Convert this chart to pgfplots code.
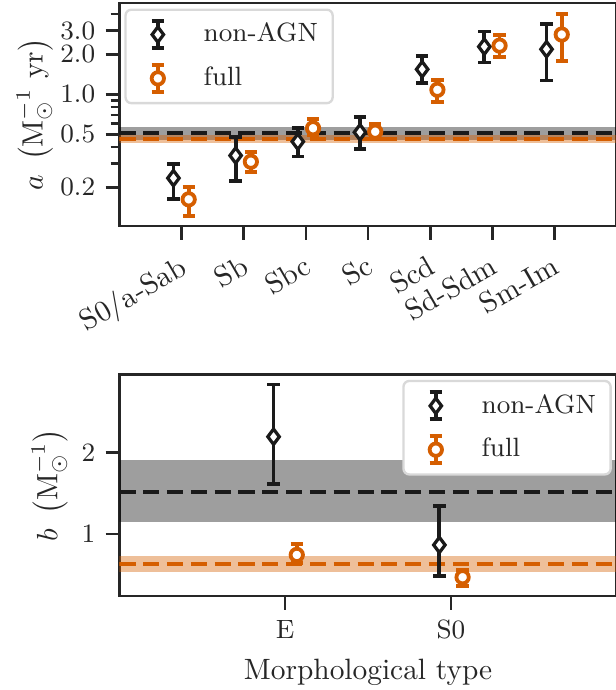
\documentclass[border=0pt]{standalone}
\usepackage{pgfplots}
\pgfplotsset{compat=1.18}
\usepackage{pgfplotstable}
\definecolor{nonagn}{HTML}{1A1A1A}
\definecolor{fullc}{HTML}{D55E00}
\definecolor{axc}{HTML}{262626}

\pgfplotstableread{
x y ep em
-0.13 0.234 0.065 0.072
0.87 0.346 0.134 0.123
1.87 0.440 0.115 0.100
2.87 0.518 0.154 0.132
3.87 1.54 0.41 0.33
4.87 2.28 0.68 0.55
5.87 2.18 1.18 0.91
}\topnon
\pgfplotstableread{
x y ep em
0.115 0.162 0.040 0.040
1.115 0.311 0.059 0.049
2.115 0.555 0.094 0.061
3.115 0.523 0.075 0.064
4.115 1.08 0.20 0.20
5.115 2.32 0.47 0.42
6.115 2.81 1.20 1.02
}\topfull
\pgfplotstableread{
x y ep em
-0.07 2.19 0.64 0.58
0.93 0.865 0.478 0.379
}\botnon
\pgfplotstableread{
x y ep em
0.07 0.743 0.135 0.10
1.07 0.47 0.09 0.106
}\botfull

\begin{document}
\begin{tikzpicture}
\pgfplotsset{
 base/.style={scale only axis, width=169.2pt,
   axis line style={line width=0.9pt, axc},
   tick style={line width=0.9pt, color=axc},
   major tick length=4.7pt, minor tick length=3pt,
   tick align=outside, tick pos=left,
   tick label style={font=\rmfamily\fontsize{9}{11}\selectfont, text=axc},
   label style={font=\rmfamily\fontsize{10}{12}\selectfont, text=axc},
   legend cell align=left,
   legend style={draw=black!15, line width=0.8pt, rounded corners=2pt, fill=white,
     font=\rmfamily\fontsize{9}{11}\selectfont, text=axc, inner xsep=3pt, inner ysep=2.5pt, row sep=3pt},
 },
 ebar/.style={only marks, color=#1, error bars/.cd, y dir=both, y explicit,
   error bar style={line width=1.3pt, color=#1},
   error mark options={rotate=90, mark size=2.1pt, line width=1.3pt, color=#1}, /pgfplots/.cd},
 nonimg/.style={legend image code/.code={
   \draw[sharp corners, nonagn, line width=1.3pt] (8pt,-4.6pt) -- (8pt,4.6pt) (5.9pt,-4.6pt) -- (10.1pt,-4.6pt) (5.9pt,4.6pt) -- (10.1pt,4.6pt);
   \draw[sharp corners, nonagn, line width=1.1pt, fill=white] (8pt,2.6pt) -- (9.95pt,0pt) -- (8pt,-2.6pt) -- (6.05pt,0pt) -- cycle;
   \path[draw=none, fill=none] (0pt,0pt) -- (21.6pt,0pt);}},
 fullimg/.style={legend image code/.code={
   \draw[sharp corners, fullc, line width=1.3pt] (8pt,-4.6pt) -- (8pt,4.6pt) (5.9pt,-4.6pt) -- (10.1pt,-4.6pt) (5.9pt,4.6pt) -- (10.1pt,4.6pt);
   \draw[fullc, line width=1.3pt, fill=white] (8pt,0pt) circle (2.1pt);
   \path[draw=none, fill=none] (0pt,0pt) -- (21.6pt,0pt);}},
}
\begin{axis}[base, name=top, at={(0pt,0pt)}, anchor=south west, height=75.9pt,
  xmin=-1, xmax=7, ymode=log, ymin=0.102, ymax=4.86,
  xtick={0,1,2,3,4,5,6},
  xticklabels={S0/a-Sab, Sb, Sbc, Sc, Scd, Sd-Sdm, Sm-Im},
  xticklabel style={rotate=30, anchor=north east, font=\rmfamily\fontsize{10}{12}\selectfont},
  ytick={0.2,0.5,1,2,3}, yticklabels={0.2,0.5,1.0,2.0,3.0},
  minor ytick={0.3,0.4,0.6,0.7,0.8,0.9,4},
  ylabel={$a\ \left(\mathrm{M}_{\odot}^{-1}\ \mathrm{yr}\right)$},
  ylabel style={at={(axis description cs:-0.17,0.5)}, anchor=center},
  legend style={at={(axis description cs:0.01,0.975)}, anchor=north west},
]
\addplot[forget plot, draw=none, fill=black, fill opacity=0.38] coordinates {(-1,0.453) (7,0.453) (7,0.570) (-1,0.570)} -- cycle;
\addplot[forget plot, draw=none, fill=fullc, fill opacity=0.4] coordinates {(-1,0.428) (7,0.428) (7,0.494) (-1,0.494)} -- cycle;
\addplot[forget plot, nonagn, line width=1.5pt, dash pattern=on 5.5pt off 2.6pt] coordinates {(-1,0.509) (7,0.509)};
\addplot[forget plot, fullc, line width=1.5pt, dash pattern=on 5.5pt off 2.6pt] coordinates {(-1,0.459) (7,0.459)};
\addplot[forget plot, mark=diamond*, mark size=2.6pt, mark options={fill=white, draw=nonagn, line width=1.1pt}, ebar=nonagn]
  table[x=x, y=y, y error plus=ep, y error minus=em] {\topnon};
\addplot[forget plot, mark=*, mark size=2.1pt, mark options={fill=white, draw=fullc, line width=1.3pt}, ebar=fullc]
  table[x=x, y=y, y error plus=ep, y error minus=em] {\topfull};
\addlegendimage{nonimg}
\addlegendentry{non-AGN}
\addlegendimage{fullimg}
\addlegendentry{full}
\end{axis}

\begin{axis}[base, name=bot, at={(0pt,-125.8pt)}, anchor=south west, height=75.4pt,
  xmin=-1, xmax=2, ymin=0.241, ymax=2.955,
  xtick={0,1}, xticklabels={E, S0},
  ytick={1,2}, yticklabels={1,2},
  xlabel={Morphological type},
  ylabel={$b\ \left(\mathrm{M}_{\odot}^{-1}\right)$},
  ylabel style={at={(axis description cs:-0.14,0.5)}, anchor=center},
  legend style={at={(axis description cs:0.99,0.975)}, anchor=north east},
]
\addplot[forget plot, draw=none, fill=black, fill opacity=0.38] coordinates {(-1,1.15) (2,1.15) (2,1.906) (-1,1.906)} -- cycle;
\addplot[forget plot, draw=none, fill=fullc, fill opacity=0.4] coordinates {(-1,0.539) (2,0.539) (2,0.731) (-1,0.731)} -- cycle;
\addplot[forget plot, nonagn, line width=1.5pt, dash pattern=on 5.5pt off 2.6pt] coordinates {(-1,1.51) (2,1.51)};
\addplot[forget plot, fullc, line width=1.5pt, dash pattern=on 5.5pt off 2.6pt] coordinates {(-1,0.629) (2,0.629)};
\addplot[forget plot, mark=diamond*, mark size=2.6pt, mark options={fill=white, draw=nonagn, line width=1.1pt}, ebar=nonagn]
  table[x=x, y=y, y error plus=ep, y error minus=em] {\botnon};
\addplot[forget plot, mark=*, mark size=2.1pt, mark options={fill=white, draw=fullc, line width=1.3pt}, ebar=fullc]
  table[x=x, y=y, y error plus=ep, y error minus=em] {\botfull};
\addlegendimage{nonimg}
\addlegendentry{non-AGN}
\addlegendimage{fullimg}
\addlegendentry{full}
\node[anchor=south west, font=\fontsize{9}{11}\selectfont, text=axc, inner sep=0pt] at (rel axis cs:0,1) [yshift=3.5pt] {$\times10^{-11}$};
\end{axis}
\pgfresetboundingbox
\path (-40.6pt,-157.8pt) rectangle (168.6pt,76.9pt);
\end{tikzpicture}
\end{document}
